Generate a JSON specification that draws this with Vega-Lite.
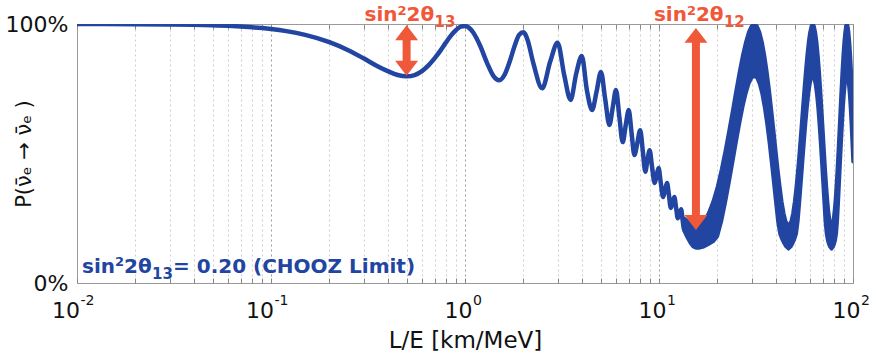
{
  "$schema": "https://vega.github.io/schema/vega-lite/v6.json",
  "width": 776,
  "height": 259,
  "autosize": {"type": "none"},
  "padding": {"left": 77, "top": 24, "right": 23, "bottom": 75},
  "background": "white",
  "config": {"view": {"stroke": "#9a9a9a", "strokeWidth": 1}, "font": "DejaVu Sans"},
  "datasets": {
    "curve": [
      {"x": 0.01, "p": 0.9998}, {"x": 0.02, "p": 0.9992}, {"x": 0.03, "p": 0.9982}, {"x": 0.04, "p": 0.9968},
      {"x": 0.05, "p": 0.995}, {"x": 0.06, "p": 0.9929}, {"x": 0.07, "p": 0.9903}, {"x": 0.08, "p": 0.9874},
      {"x": 0.09, "p": 0.9842}, {"x": 0.1, "p": 0.9806}, {"x": 0.12, "p": 0.9725}, {"x": 0.15, "p": 0.958},
      {"x": 0.2, "p": 0.93}, {"x": 0.25, "p": 0.899}, {"x": 0.3, "p": 0.8675}, {"x": 0.35, "p": 0.839},
      {"x": 0.4, "p": 0.818}, {"x": 0.45, "p": 0.803}, {"x": 0.5, "p": 0.798}, {"x": 0.55, "p": 0.803},
      {"x": 0.6, "p": 0.818}, {"x": 0.65, "p": 0.841}, {"x": 0.7, "p": 0.869}, {"x": 0.75, "p": 0.899},
      {"x": 0.8, "p": 0.93}, {"x": 0.85, "p": 0.957}, {"x": 0.9, "p": 0.977}, {"x": 0.95, "p": 0.9895},
      {"x": 1.0, "p": 0.992}, {"x": 1.05, "p": 0.985}, {"x": 1.1, "p": 0.968}, {"x": 1.2, "p": 0.914},
      {"x": 1.3, "p": 0.849}, {"x": 1.4, "p": 0.8}, {"x": 1.5, "p": 0.783}, {"x": 1.6, "p": 0.804},
      {"x": 1.7, "p": 0.855}, {"x": 1.8, "p": 0.914}, {"x": 1.9, "p": 0.958}, {"x": 2.0, "p": 0.968},
      {"x": 2.1, "p": 0.939}, {"x": 2.25, "p": 0.849}, {"x": 2.5, "p": 0.752}, {"x": 2.75, "p": 0.855},
      {"x": 3.0, "p": 0.928}, {"x": 3.25, "p": 0.801}, {"x": 3.5, "p": 0.707}, {"x": 3.75, "p": 0.811},
      {"x": 4.0, "p": 0.876}, {"x": 4.25, "p": 0.744}, {"x": 4.52, "p": 0.668}, {"x": 4.77, "p": 0.74},
      {"x": 5.02, "p": 0.815}, {"x": 5.28, "p": 0.71}, {"x": 5.55, "p": 0.61}, {"x": 5.78, "p": 0.68},
      {"x": 6.0, "p": 0.745}, {"x": 6.25, "p": 0.64}, {"x": 6.5, "p": 0.544}, {"x": 6.74, "p": 0.61},
      {"x": 6.98, "p": 0.668}, {"x": 7.22, "p": 0.58}, {"x": 7.47, "p": 0.494}, {"x": 7.73, "p": 0.54},
      {"x": 8.0, "p": 0.59}, {"x": 8.25, "p": 0.51}, {"x": 8.5, "p": 0.43}, {"x": 8.7, "p": 0.47},
      {"x": 8.95, "p": 0.513}, {"x": 9.2, "p": 0.45}, {"x": 9.5, "p": 0.386}, {"x": 9.72, "p": 0.415},
      {"x": 9.95, "p": 0.444}, {"x": 10.2, "p": 0.39}, {"x": 10.5, "p": 0.332}, {"x": 10.75, "p": 0.36},
      {"x": 11.0, "p": 0.386}, {"x": 11.25, "p": 0.34}, {"x": 11.5, "p": 0.29}, {"x": 11.75, "p": 0.31},
      {"x": 12.0, "p": 0.332}, {"x": 12.25, "p": 0.29}, {"x": 12.5, "p": 0.25}, {"x": 12.75, "p": 0.265},
      {"x": 13.0, "p": 0.285}, {"x": 13.25, "p": 0.24}, {"x": 13.5, "p": 0.205}, {"x": 13.75, "p": 0.22},
      {"x": 14.0, "p": 0.24}
    ],
    "band": [
      {"x": 13.5, "lo": 0.2, "hi": 0.25}, {"x": 14, "lo": 0.175, "hi": 0.238}, {"x": 14.5, "lo": 0.155, "hi": 0.228},
      {"x": 15, "lo": 0.14, "hi": 0.222}, {"x": 15.5, "lo": 0.135, "hi": 0.22}, {"x": 16, "lo": 0.135, "hi": 0.222},
      {"x": 17, "lo": 0.14, "hi": 0.238}, {"x": 18, "lo": 0.15, "hi": 0.269}, {"x": 19, "lo": 0.16, "hi": 0.314},
      {"x": 20, "lo": 0.18, "hi": 0.371}, {"x": 21, "lo": 0.239, "hi": 0.439}, {"x": 22, "lo": 0.313, "hi": 0.513},
      {"x": 23, "lo": 0.391, "hi": 0.591}, {"x": 24, "lo": 0.469, "hi": 0.669}, {"x": 25, "lo": 0.546, "hi": 0.746},
      {"x": 26, "lo": 0.616, "hi": 0.816}, {"x": 27, "lo": 0.679, "hi": 0.879}, {"x": 28, "lo": 0.73, "hi": 0.93},
      {"x": 29, "lo": 0.769, "hi": 0.969}, {"x": 30, "lo": 0.792, "hi": 0.992}, {"x": 31, "lo": 0.8, "hi": 1.0},
      {"x": 32, "lo": 0.792, "hi": 0.992}, {"x": 33, "lo": 0.768, "hi": 0.968}, {"x": 34, "lo": 0.73, "hi": 0.93},
      {"x": 35, "lo": 0.678, "hi": 0.878}, {"x": 36, "lo": 0.616, "hi": 0.816}, {"x": 37, "lo": 0.545, "hi": 0.745},
      {"x": 38, "lo": 0.468, "hi": 0.668}, {"x": 39, "lo": 0.39, "hi": 0.59}, {"x": 40, "lo": 0.312, "hi": 0.512},
      {"x": 41, "lo": 0.237, "hi": 0.437}, {"x": 42, "lo": 0.19, "hi": 0.371}, {"x": 43, "lo": 0.17, "hi": 0.313},
      {"x": 44, "lo": 0.155, "hi": 0.269}, {"x": 45, "lo": 0.142, "hi": 0.238}, {"x": 46.5, "lo": 0.132, "hi": 0.22},
      {"x": 48, "lo": 0.142, "hi": 0.238}, {"x": 49, "lo": 0.155, "hi": 0.269}, {"x": 50, "lo": 0.17, "hi": 0.315},
      {"x": 51, "lo": 0.19, "hi": 0.372}, {"x": 52, "lo": 0.239, "hi": 0.439}, {"x": 53, "lo": 0.313, "hi": 0.513},
      {"x": 54, "lo": 0.391, "hi": 0.591}, {"x": 55, "lo": 0.47, "hi": 0.67}, {"x": 56, "lo": 0.546, "hi": 0.746},
      {"x": 57, "lo": 0.617, "hi": 0.817}, {"x": 58, "lo": 0.679, "hi": 0.879}, {"x": 59, "lo": 0.731, "hi": 0.931},
      {"x": 60, "lo": 0.769, "hi": 0.969}, {"x": 61, "lo": 0.792, "hi": 0.992}, {"x": 62, "lo": 0.8, "hi": 1.0},
      {"x": 63, "lo": 0.792, "hi": 0.992}, {"x": 64, "lo": 0.768, "hi": 0.968}, {"x": 65, "lo": 0.73, "hi": 0.93},
      {"x": 66, "lo": 0.678, "hi": 0.878}, {"x": 67, "lo": 0.615, "hi": 0.815}, {"x": 68, "lo": 0.545, "hi": 0.745},
      {"x": 69, "lo": 0.468, "hi": 0.668}, {"x": 70, "lo": 0.389, "hi": 0.589}, {"x": 71, "lo": 0.311, "hi": 0.511},
      {"x": 72, "lo": 0.237, "hi": 0.437}, {"x": 73, "lo": 0.19, "hi": 0.37}, {"x": 74, "lo": 0.165, "hi": 0.313},
      {"x": 75, "lo": 0.15, "hi": 0.268}, {"x": 76, "lo": 0.14, "hi": 0.238}, {"x": 77.5, "lo": 0.132, "hi": 0.22},
      {"x": 79, "lo": 0.14, "hi": 0.238}, {"x": 80, "lo": 0.15, "hi": 0.27}, {"x": 81, "lo": 0.165, "hi": 0.315},
      {"x": 82, "lo": 0.19, "hi": 0.372}, {"x": 83, "lo": 0.239, "hi": 0.439}, {"x": 84, "lo": 0.313, "hi": 0.513},
      {"x": 85, "lo": 0.391, "hi": 0.591}, {"x": 86, "lo": 0.47, "hi": 0.67}, {"x": 87, "lo": 0.546, "hi": 0.746},
      {"x": 88, "lo": 0.617, "hi": 0.817}, {"x": 89, "lo": 0.68, "hi": 0.88}, {"x": 90, "lo": 0.731, "hi": 0.931},
      {"x": 91, "lo": 0.769, "hi": 0.969}, {"x": 92, "lo": 0.792, "hi": 0.992}, {"x": 93, "lo": 0.8, "hi": 1.0},
      {"x": 94, "lo": 0.792, "hi": 0.992}, {"x": 95, "lo": 0.768, "hi": 0.968}, {"x": 96, "lo": 0.729, "hi": 0.929},
      {"x": 97, "lo": 0.678, "hi": 0.878}, {"x": 98, "lo": 0.615, "hi": 0.815}, {"x": 99, "lo": 0.544, "hi": 0.744},
      {"x": 100, "lo": 0.468, "hi": 0.668}
    ],
    "arrows": [
      {"x": 0.5, "top": 0.995, "bottom": 0.8, "sub": "13"},
      {"x": 15.5, "top": 0.985, "bottom": 0.205, "sub": "12"}
    ],
    "ticks": [
      {"v": 0.01, "e": "-2"}, {"v": 0.1, "e": "-1"}, {"v": 1, "e": "0"}, {"v": 10, "e": "1"}, {"v": 100, "e": "2"}
    ],
    "note": [
      {"x": 0.01, "y": 0, "sub": "13", "tail": "= 0.20 (CHOOZ Limit)"}
    ]
  },
  "resolve": {"axis": {"x": "independent", "y": "independent"}},
  "layer": [
    {
      "data": {"name": "band"},
      "mark": {"type": "area", "color": "#2145a1", "stroke": "#2145a1", "strokeWidth": 3.5, "strokeJoin": "round", "opacity": 1, "clip": true},
      "encoding": {
        "x": {
          "field": "x", "type": "quantitative",
          "scale": {"type": "log", "domain": [0.01, 100], "nice": false},
          "axis": {
            "orient": "bottom",
            "values": [0.01, 0.02, 0.03, 0.04, 0.05, 0.06, 0.07, 0.08, 0.09, 0.1, 0.2, 0.3, 0.4, 0.5, 0.6, 0.7, 0.8, 0.9, 1, 2, 3, 4, 5, 6, 7, 8, 9, 10, 20, 30, 40, 50, 60, 70, 80, 90, 100],
            "labels": false,
            "domain": false,
            "grid": true,
            "gridDash": [2, 3],
            "gridColor": {"condition": {"test": "abs(log(datum.value)/LN10 - round(log(datum.value)/LN10)) < 0.001", "value": "#9a9a9a"}, "value": "#cfcfcf"},
            "tickSize": -5,
            "tickColor": "#888888",
            "title": "L/E [km/MeV]",
            "titleFont": "DejaVu Sans",
            "titleFontSize": 23,
            "titleFontWeight": "normal",
            "titleColor": "#111111",
            "titleY": 64,
            "titleBaseline": "alphabetic"
          }
        },
        "y": {
          "field": "hi", "type": "quantitative",
          "scale": {"domain": [0, 1], "nice": false, "zero": false},
          "axis": {
            "values": [0, 1],
            "labelExpr": "datum.value == 1 ? '100%' : '0%'",
            "labelFont": "DejaVu Sans",
            "labelFontSize": 22,
            "labelColor": "#111111",
            "labelPadding": 9,
            "ticks": false,
            "domain": false,
            "grid": false,
            "title": "P(\u03bd\u0304\u2091 \u2192 \u03bd\u0304\u2091 )",
            "titleFont": "DejaVu Sans",
            "titleFontSize": 21,
            "titleFontWeight": "normal",
            "titleColor": "#111111",
            "titleX": -53,
            "titleY": 129.5,
            "titleAngle": -90,
            "titleAlign": "center",
            "titleBaseline": "middle"
          }
        },
        "y2": {"field": "lo"}
      }
    },
    {
      "data": {"name": "curve"},
      "mark": {"type": "line", "color": "#2145a1", "strokeWidth": 4.5, "interpolate": "monotone", "clip": true, "strokeCap": "round", "strokeJoin": "round"},
      "encoding": {
        "x": {
          "field": "x", "type": "quantitative",
          "axis": {
            "orient": "top",
            "values": [0.01, 0.02, 0.03, 0.04, 0.05, 0.06, 0.07, 0.08, 0.09, 0.1, 0.2, 0.3, 0.4, 0.5, 0.6, 0.7, 0.8, 0.9, 1, 2, 3, 4, 5, 6, 7, 8, 9, 10, 20, 30, 40, 50, 60, 70, 80, 90, 100],
            "labels": false,
            "domain": false,
            "grid": false,
            "tickSize": -5,
            "tickColor": "#888888",
            "title": null
          }
        },
        "y": {"field": "p", "type": "quantitative", "axis": null}
      }
    },
    {
      "data": {"name": "arrows"},
      "mark": {"type": "rule", "color": "#f0583a", "strokeWidth": 8, "yOffset": 14, "y2Offset": -14},
      "encoding": {
        "x": {"field": "x", "type": "quantitative", "axis": null},
        "y": {"field": "top", "type": "quantitative", "axis": null},
        "y2": {"field": "bottom"}
      }
    },
    {
      "data": {"name": "arrows"},
      "mark": {"type": "point", "shape": "M0,0L1,1.3L-1,1.3Z", "size": 529, "filled": true, "color": "#f0583a", "opacity": 1},
      "encoding": {
        "x": {"field": "x", "type": "quantitative", "axis": null},
        "y": {"field": "top", "type": "quantitative", "axis": null}
      }
    },
    {
      "data": {"name": "arrows"},
      "mark": {"type": "point", "shape": "M0,0L1,-1.3L-1,-1.3Z", "size": 529, "filled": true, "color": "#f0583a", "opacity": 1},
      "encoding": {
        "x": {"field": "x", "type": "quantitative", "axis": null},
        "y": {"field": "bottom", "type": "quantitative", "axis": null}
      }
    },
    {
      "data": {"name": "arrows"},
      "mark": {"type": "text", "text": "sin", "font": "DejaVu Sans", "fontWeight": "bold", "fontSize": 20, "color": "#f0583a", "align": "left", "baseline": "alphabetic", "dx": -42, "dy": -3},
      "encoding": {
        "x": {"field": "x", "type": "quantitative", "axis": null},
        "y": {"datum": 1, "type": "quantitative", "axis": null}
      }
    },
    {
      "data": {"name": "arrows"},
      "mark": {"type": "text", "text": "2", "font": "DejaVu Sans", "fontWeight": "bold", "fontSize": 13, "color": "#f0583a", "align": "left", "baseline": "alphabetic", "dx": -9, "dy": -9.5},
      "encoding": {
        "x": {"field": "x", "type": "quantitative", "axis": null},
        "y": {"datum": 1, "type": "quantitative", "axis": null}
      }
    },
    {
      "data": {"name": "arrows"},
      "mark": {"type": "text", "text": "2\u03b8", "font": "DejaVu Sans", "fontWeight": "bold", "fontSize": 20, "color": "#f0583a", "align": "left", "baseline": "alphabetic", "dx": 0, "dy": -3},
      "encoding": {
        "x": {"field": "x", "type": "quantitative", "axis": null},
        "y": {"datum": 1, "type": "quantitative", "axis": null}
      }
    },
    {
      "data": {"name": "arrows"},
      "mark": {"type": "text", "font": "DejaVu Sans", "fontWeight": "bold", "fontSize": 15, "color": "#f0583a", "align": "left", "baseline": "alphabetic", "dx": 28, "dy": 3},
      "encoding": {
        "x": {"field": "x", "type": "quantitative", "axis": null},
        "y": {"datum": 1, "type": "quantitative", "axis": null},
        "text": {"field": "sub"}
      }
    },
    {
      "data": {"name": "note"},
      "mark": {"type": "text", "text": "sin", "font": "DejaVu Sans", "fontWeight": "bold", "fontSize": 20, "color": "#2145a1", "align": "left", "baseline": "alphabetic", "dx": 5, "dy": -10},
      "encoding": {
        "x": {"field": "x", "type": "quantitative", "axis": null},
        "y": {"field": "y", "type": "quantitative", "axis": null}
      }
    },
    {
      "data": {"name": "note"},
      "mark": {"type": "text", "text": "2", "font": "DejaVu Sans", "fontWeight": "bold", "fontSize": 13, "color": "#2145a1", "align": "left", "baseline": "alphabetic", "dx": 38, "dy": -17},
      "encoding": {
        "x": {"field": "x", "type": "quantitative", "axis": null},
        "y": {"field": "y", "type": "quantitative", "axis": null}
      }
    },
    {
      "data": {"name": "note"},
      "mark": {"type": "text", "text": "2\u03b8", "font": "DejaVu Sans", "fontWeight": "bold", "fontSize": 20, "color": "#2145a1", "align": "left", "baseline": "alphabetic", "dx": 47, "dy": -10},
      "encoding": {
        "x": {"field": "x", "type": "quantitative", "axis": null},
        "y": {"field": "y", "type": "quantitative", "axis": null}
      }
    },
    {
      "data": {"name": "note"},
      "mark": {"type": "text", "font": "DejaVu Sans", "fontWeight": "bold", "fontSize": 15, "color": "#2145a1", "align": "left", "baseline": "alphabetic", "dx": 75, "dy": -4},
      "encoding": {
        "x": {"field": "x", "type": "quantitative", "axis": null},
        "y": {"field": "y", "type": "quantitative", "axis": null},
        "text": {"field": "sub"}
      }
    },
    {
      "data": {"name": "note"},
      "mark": {"type": "text", "font": "DejaVu Sans", "fontWeight": "bold", "fontSize": 20, "color": "#2145a1", "align": "left", "baseline": "alphabetic", "dx": 96, "dy": -10},
      "encoding": {
        "x": {"field": "x", "type": "quantitative", "axis": null},
        "y": {"field": "y", "type": "quantitative", "axis": null},
        "text": {"field": "tail"}
      }
    },
    {
      "data": {"name": "ticks"},
      "transform": [{"filter": "datum.v < 1"}],
      "mark": {"type": "text", "text": "10", "font": "DejaVu Sans", "fontSize": 22, "color": "#111111", "align": "right", "baseline": "alphabetic", "dx": 3, "dy": 35},
      "encoding": {
        "x": {"field": "v", "type": "quantitative", "axis": null},
        "y": {"datum": 0, "type": "quantitative", "axis": null}
      }
    },
    {
      "data": {"name": "ticks"},
      "transform": [{"filter": "datum.v >= 1"}],
      "mark": {"type": "text", "text": "10", "font": "DejaVu Sans", "fontSize": 22, "color": "#111111", "align": "right", "baseline": "alphabetic", "dx": 7.5, "dy": 35},
      "encoding": {
        "x": {"field": "v", "type": "quantitative", "axis": null},
        "y": {"datum": 0, "type": "quantitative", "axis": null}
      }
    },
    {
      "data": {"name": "ticks"},
      "transform": [{"filter": "datum.v < 1"}],
      "mark": {"type": "text", "font": "DejaVu Sans", "fontSize": 14, "color": "#111111", "align": "left", "baseline": "alphabetic", "dx": 3.5, "dy": 22},
      "encoding": {
        "x": {"field": "v", "type": "quantitative", "axis": null},
        "y": {"datum": 0, "type": "quantitative", "axis": null},
        "text": {"field": "e"}
      }
    },
    {
      "data": {"name": "ticks"},
      "transform": [{"filter": "datum.v >= 1"}],
      "mark": {"type": "text", "font": "DejaVu Sans", "fontSize": 14, "color": "#111111", "align": "left", "baseline": "alphabetic", "dx": 8, "dy": 22},
      "encoding": {
        "x": {"field": "v", "type": "quantitative", "axis": null},
        "y": {"datum": 0, "type": "quantitative", "axis": null},
        "text": {"field": "e"}
      }
    }
  ]
}
